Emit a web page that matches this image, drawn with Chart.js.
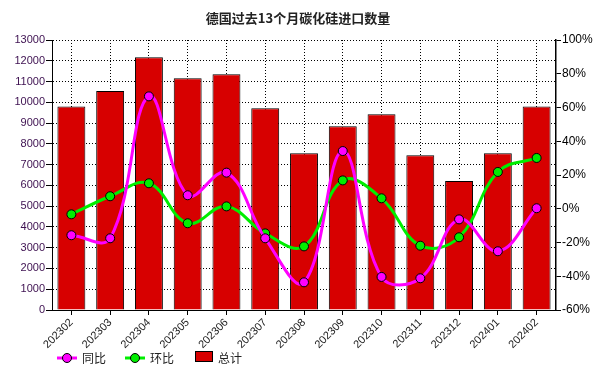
<!DOCTYPE html>
<html lang="zh">
<head>
    <meta charset="UTF-8">
    <title>德国过去13个月碳化硅进口数量</title>
    <script src="https://cdn.jsdelivr.net/npm/chart.js"></script>
    <style>
        html, body {
            margin: 0;
            padding: 0;
            background: #fff;
        }

        .chart-box {
            width: 596px;
            height: 371px;
        }
    </style>
</head>
<body>
    <div class="chart-box">
        <canvas id="importChart" width="596" height="371"></canvas>
    </div>

    <script>
        const months = ['202302', '202303', '202304', '202305', '202306', '202307', '202308',
            '202309', '202310', '202311', '202312', '202401', '202402'];
        const totalQty = [9800, 10550, 12170, 11160, 11350, 9710, 7550, 8850, 9420, 7450, 6210, 7550, 9800];
        const yoyPct = [-15.7, -17.5, 66.6, 8.0, 21.4, -17.5, -43.6, 34.2, -40.4, -41.2, -6.3, -25.2, 0.3];
        const momPct = [-3.3, 7.4, 15.1, -8.6, 1.4, -14.6, -22.3, 16.8, 6.2, -21.9, -16.9, 21.8, 30.1];
        const qtyTicks = [0, 1000, 2000, 3000, 4000, 5000, 6000, 7000, 8000, 9000, 10000, 11000, 12000, 13000];
        const pctTicks = [-60, -40, -20, 0, 20, 40, 60, 80, 100];

        const fontLatin = 'Arial, "Liberation Sans", sans-serif';
        const fontCjk = '"Noto Sans CJK SC", "Liberation Sans", sans-serif';

        // legend drawn by hand: line + dot for the two ratios, box for the bars
        const bottomLegend = {
            id: 'bottomLegend',
            afterDraw(chart) {
                const ctx = chart.ctx;
                const y = 358;
                const items = [
                    { ds: chart.data.datasets[0], x: 57 },
                    { ds: chart.data.datasets[1], x: 125 },
                    { ds: chart.data.datasets[2], x: 195 }
                ];
                ctx.save();
                items.forEach(item => {
                    const ds = item.ds;
                    let textX;
                    if (ds.type === 'line') {
                        ctx.strokeStyle = ds.borderColor;
                        ctx.lineWidth = 3;
                        ctx.beginPath();
                        ctx.moveTo(item.x, y);
                        ctx.lineTo(item.x + 20, y);
                        ctx.stroke();
                        ctx.fillStyle = ds.pointBackgroundColor;
                        ctx.strokeStyle = '#000';
                        ctx.lineWidth = 1;
                        ctx.beginPath();
                        ctx.arc(item.x + 10, y, 4.5, 0, Math.PI * 2);
                        ctx.fill();
                        ctx.stroke();
                        textX = item.x + 25;
                    } else {
                        ctx.fillStyle = ds.backgroundColor;
                        ctx.fillRect(item.x + 0.5, y - 6.5, 17, 10);
                        ctx.strokeStyle = '#000';
                        ctx.lineWidth = 1;
                        ctx.strokeRect(item.x + 0.5, y - 6.5, 17, 10);
                        textX = item.x + 23;
                    }
                    ctx.fillStyle = '#222';
                    ctx.font = '12px ' + fontCjk;
                    ctx.textBaseline = 'middle';
                    ctx.textAlign = 'left';
                    ctx.fillText(ds.label, textX, y);
                });
                ctx.restore();
            }
        };

        new Chart(document.getElementById('importChart'), {
            data: {
                labels: months,
                datasets: [{
                    type: 'line',
                    label: '同比',
                    data: yoyPct,
                    yAxisID: 'y1',
                    borderColor: '#ff00ff',
                    borderWidth: 3,
                    pointBackgroundColor: '#ff00ff',
                    pointBorderColor: '#000',
                    pointBorderWidth: 1,
                    pointRadius: 4.5,
                    tension: 0.4,
                    order: 0
                }, {
                    type: 'line',
                    label: '环比',
                    data: momPct,
                    yAxisID: 'y1',
                    borderColor: '#00ee00',
                    borderWidth: 3,
                    pointBackgroundColor: '#00ee00',
                    pointBorderColor: '#000',
                    pointBorderWidth: 1,
                    pointRadius: 4.5,
                    tension: 0.4,
                    order: 1
                }, {
                    type: 'bar',
                    label: '总计',
                    data: totalQty,
                    yAxisID: 'y',
                    backgroundColor: '#d70000',
                    borderColor: '#000',
                    borderWidth: 1,
                    categoryPercentage: 1,
                    barPercentage: 0.72,
                    order: 2
                }]
            },
            options: {
                responsive: false,
                animation: false,
                layout: {
                    padding: { left: 0, right: 0, top: 0, bottom: 16 }
                },
                plugins: {
                    legend: { display: false },
                    tooltip: { enabled: false },
                    title: {
                        display: true,
                        text: '德国过去13个月碳化硅进口数量',
                        color: '#222',
                        font: { family: fontCjk, size: 13, weight: 'bold', lineHeight: 1.2 },
                        padding: { top: 10, bottom: 14.4 }
                    }
                },
                scales: {
                    x: {
                        offset: true,
                        grid: {
                            offset: false,
                            color: '#000',
                            tickColor: '#000',
                            tickLength: 5,
                            tickBorderDash: []
                        },
                        border: { color: '#000', dash: [1, 2] },
                        ticks: {
                            color: '#222',
                            font: { family: fontLatin, size: 11 },
                            minRotation: 45,
                            maxRotation: 45,
                            padding: 1,
                            autoSkip: false
                        },
                        // tall enough so the rotated labels are not clipped
                        afterFit(scale) { scale.height = 45; }
                    },
                    y: {
                        position: 'left',
                        min: 0,
                        max: 13000,
                        afterBuildTicks(scale) {
                            scale.ticks = qtyTicks.map(v => ({ value: v }));
                        },
                        grid: {
                            color: '#000',
                            tickColor: '#000',
                            tickLength: 6,
                            tickBorderDash: []
                        },
                        border: { color: '#000', dash: [1, 2] },
                        ticks: {
                            color: '#3d1050',
                            font: { family: fontLatin, size: 11 },
                            padding: 1,
                            callback: v => String(v)
                        },
                        afterFit(scale) { scale.width = 52; }
                    },
                    y1: {
                        position: 'right',
                        min: -60,
                        max: 100,
                        afterBuildTicks(scale) {
                            scale.ticks = pctTicks.map(v => ({ value: v }));
                        },
                        grid: {
                            drawOnChartArea: false,
                            color: '#000',
                            tickColor: '#000',
                            tickLength: 5
                        },
                        border: { color: '#000', width: 1.5 },
                        ticks: {
                            color: '#000',
                            font: { family: fontLatin, size: 12 },
                            padding: 1,
                            callback: v => v + '%'
                        },
                        afterFit(scale) { scale.width = 40; }
                    }
                }
            },
            plugins: [bottomLegend]
        });
    </script>
</body>
</html>
